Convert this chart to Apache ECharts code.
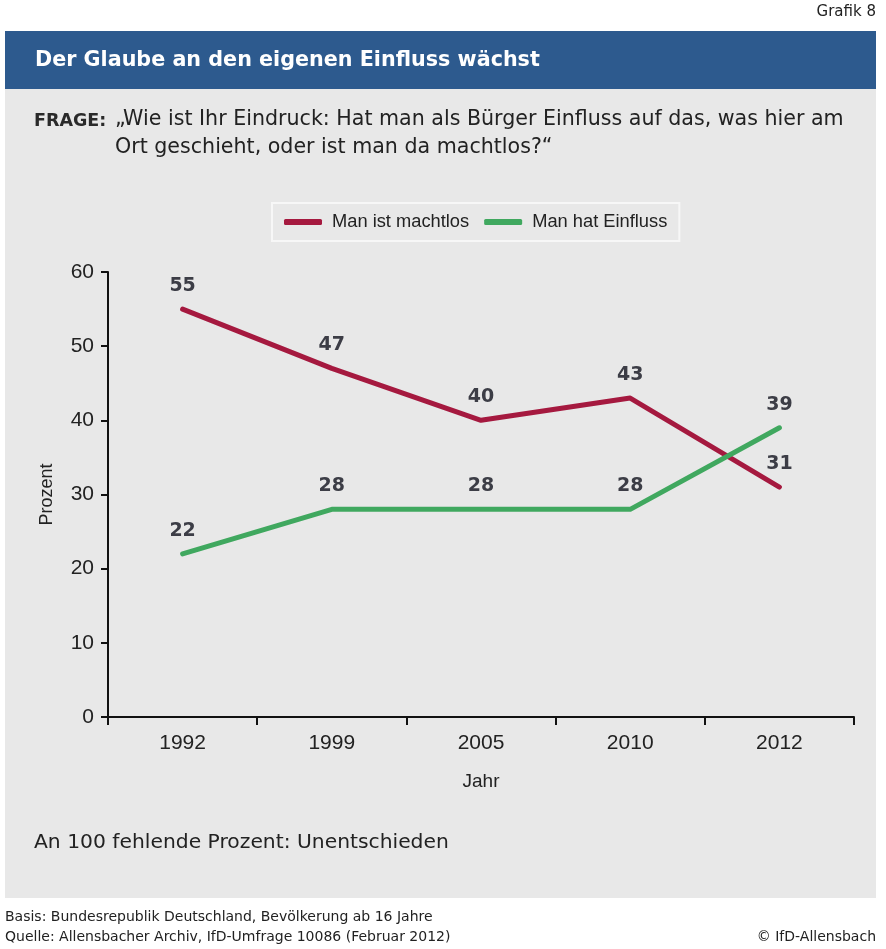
<!DOCTYPE html>
<html>
<head>
<meta charset="utf-8">
<script src="https://cdn.jsdelivr.net/npm/echarts@6/dist/echarts.min.js"></script>
<style>html,body{margin:0;padding:0;background:#fff}#c{width:886px;height:949px}</style>
</head>
<body>
<div id="c"></div>
<script>
const years = ['1992', '1999', '2005', '2010', '2012'];
const machtlos = [55, 47, 40, 43, 31];
const einfluss = [22, 28, 28, 28, 39];
const seriesNames = ['Man ist machtlos', 'Man hat Einfluss'];
const yTicks = { min: 0, max: 60, interval: 10 };

const F = 'Liberation Sans, Arial, sans-serif';
const D = 'DejaVu Sans, sans-serif';
const RED = '#a5193f';
const GREEN = '#40a85f';
const LBL = '#3c3d46';

const chart = echarts.init(document.getElementById('c'), null, { renderer: 'canvas' });
const option = {
  backgroundColor: '#ffffff',
  animation: false,
  graphic: [
    { type: 'rect', z: -10, shape: { x: 5, y: 31, width: 871, height: 58 }, style: { fill: '#2d5a8e' } },
    { type: 'rect', z: -10, shape: { x: 5, y: 89, width: 871, height: 809 }, style: { fill: '#e8e8e8' } },
    { type: 'text', x: 876, y: 12, style: { text: 'Grafik 8', font: '15px ' + D, fill: '#222', align: 'right', verticalAlign: 'middle' } },
    { type: 'text', x: 35, y: 61, style: { text: 'Der Glaube an den eigenen Einfluss wächst', font: 'bold 20.7px ' + D, fill: '#ffffff', verticalAlign: 'middle' } },
    { type: 'text', x: 34, y: 121, style: { text: 'FRAGE:', font: 'bold 17.5px ' + D, fill: '#2a2a2a', verticalAlign: 'middle' } },
    { type: 'text', x: 115, y: 120, style: { text: '„Wie ist Ihr Eindruck: Hat man als Bürger Einfluss auf das, was hier am', font: '20.6px ' + D, fill: '#222', verticalAlign: 'middle' } },
    { type: 'text', x: 115, y: 148, style: { text: 'Ort geschieht, oder ist man da machtlos?“', font: '20.6px ' + D, fill: '#222', verticalAlign: 'middle' } },
    { type: 'text', x: 34, y: 843, style: { text: 'An 100 fehlende Prozent: Unentschieden', font: '20.3px ' + D, fill: '#222', verticalAlign: 'middle' } },
    { type: 'text', x: 5, y: 917, style: { text: 'Basis: Bundesrepublik Deutschland, Bevölkerung ab 16 Jahre', font: '14px ' + D, fill: '#222', verticalAlign: 'middle' } },
    { type: 'text', x: 5, y: 937, style: { text: 'Quelle: Allensbacher Archiv, IfD-Umfrage 10086 (Februar 2012)', font: '14px ' + D, fill: '#222', verticalAlign: 'middle' } },
    { type: 'text', x: 876, y: 937, style: { text: '© IfD-Allensbach', font: '14px ' + D, fill: '#222', align: 'right', verticalAlign: 'middle' } }
  ],
  legend: {
    left: 272,
    top: 203,
    padding: [10, 12, 10, 12],
    itemGap: 15,
    itemWidth: 38,
    itemHeight: 6,
    icon: 'roundRect',
    borderColor: '#f7f7f7',
    borderWidth: 2,
    backgroundColor: '#e8e8e8',
    textStyle: { fontFamily: F, fontSize: 18.3, color: '#222', padding: [0, 0, 0, 5] },
    data: seriesNames
  },
  grid: { left: 108, right: 32, top: 272, bottom: 232 },
  xAxis: {
    type: 'category',
    data: years,
    boundaryGap: true,
    name: 'Jahr',
    nameLocation: 'middle',
    nameGap: 55,
    nameTextStyle: { fontFamily: F, fontSize: 19, color: '#222' },
    axisLine: { show: true, lineStyle: { color: '#111', width: 2 } },
    axisTick: { show: true, length: 8, lineStyle: { color: '#111', width: 2 } },
    axisLabel: { fontFamily: F, fontSize: 21, color: '#222', margin: 16 },
    splitLine: { show: false }
  },
  yAxis: {
    type: 'value',
    min: yTicks.min,
    max: yTicks.max,
    interval: yTicks.interval,
    name: 'Prozent',
    nameLocation: 'middle',
    nameGap: 52,
    nameRotate: 90,
    nameTextStyle: { fontFamily: F, fontSize: 18, color: '#222' },
    axisLine: { show: true, lineStyle: { color: '#111', width: 2 } },
    axisTick: { show: true, length: 7, lineStyle: { color: '#111', width: 2 } },
    axisLabel: { fontFamily: F, fontSize: 21, color: '#222', margin: 14 },
    splitLine: { show: false }
  },
  series: [
    {
      name: seriesNames[0],
      type: 'line',
      data: machtlos,
      color: RED,
      symbol: 'circle',
      symbolSize: 1,
      lineStyle: { color: RED, width: 5, cap: 'round', join: 'round' },
      itemStyle: { color: RED },
      label: { show: true, position: 'top', distance: 13, fontFamily: D, fontWeight: 'bold', fontSize: 19, color: LBL }
    },
    {
      name: seriesNames[1],
      type: 'line',
      data: einfluss,
      color: GREEN,
      symbol: 'circle',
      symbolSize: 1,
      lineStyle: { color: GREEN, width: 5, cap: 'round', join: 'round' },
      itemStyle: { color: GREEN },
      label: { show: true, position: 'top', distance: 13, fontFamily: D, fontWeight: 'bold', fontSize: 19, color: LBL }
    }
  ]
};
chart.setOption(option);
</script>
</body>
</html>
